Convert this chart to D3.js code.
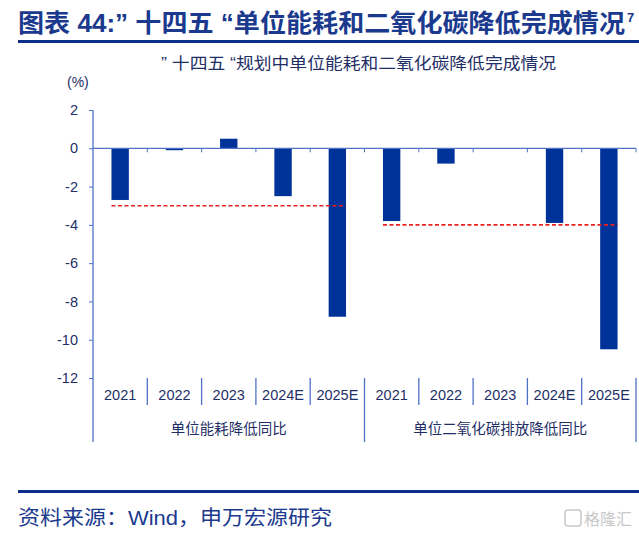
<!DOCTYPE html>
<html>
<head>
<meta charset="utf-8">
<script src="https://cdn.jsdelivr.net/npm/d3@7"></script>
<style>
  body { margin: 0; background: #fff; }
  text { font-family: "Liberation Sans", "Noto Sans CJK SC", sans-serif; }
</style>
</head>
<body>
<div id="chart"></div>
<script>
const years = ["2021", "2022", "2023", "2024E", "2025E"];
const groups = ["单位能耗降低同比", "单位二氧化碳排放降低同比"];
const energyValues = [-2.7, -0.1, 0.5, -2.5, -8.8];
const carbonValues = [-3.8, -0.8, null, -3.9, -10.5]; // no bar for 2023
const targets = [-3.0, -4.0];
const yTicks = [2, 0, -2, -4, -6, -8, -10, -12];

const width = 639, height = 537;
const navy = "#1b3a8e";
const axisBlue = "#4f72c4";
const textDark = "#1f2f66";

const svg = d3.select("#chart")
  .append("svg")
  .attr("width", width)
  .attr("height", height);

// header
svg.append("text")
  .attr("x", 18).attr("y", 32)
  .attr("textLength", 607).attr("lengthAdjust", "spacingAndGlyphs")
  .style("font-size", "25px").style("font-weight", "bold")
  .attr("fill", navy)
  .text("图表 44:” 十四五 “单位能耗和二氧化碳降低完成情况");
svg.append("text")
  .attr("x", 627).attr("y", 22)
  .style("font-size", "13px").style("font-weight", "bold")
  .attr("fill", navy)
  .text("7");
svg.append("rect")
  .attr("x", 18).attr("y", 40).attr("width", width - 18).attr("height", 3)
  .attr("fill", "#0c2f8a");

svg.append("text")
  .attr("x", 161).attr("y", 69)
  .attr("textLength", 395).attr("lengthAdjust", "spacingAndGlyphs")
  .style("font-size", "16px")
  .attr("fill", textDark)
  .text("” 十四五 “规划中单位能耗和二氧化碳降低完成情况");

svg.append("text")
  .attr("x", 67).attr("y", 87)
  .style("font-size", "14px")
  .attr("fill", textDark)
  .text("(%)");

// flatten the two series into one row of categories
const rows = [];
years.forEach((yr, i) => rows.push({ key: "e" + i, year: yr, group: 0, value: energyValues[i] }));
years.forEach((yr, i) => rows.push({ key: "c" + i, year: yr, group: 1, value: carbonValues[i] }));

const x = d3.scaleBand()
  .domain(rows.map(d => d.key))
  .range([93, 636])
  .padding(0);

const y = d3.scaleLinear()
  .domain([-12, 2])
  .range([378, 110]);

const barW = x.bandwidth() * 0.32;

// y axis
const yAxis = svg.append("g")
  .attr("transform", "translate(93,0)")
  .call(d3.axisLeft(y).tickValues(yTicks).tickSize(4).tickPadding(11).tickFormat(d3.format("d")));
yAxis.select(".domain").remove();
yAxis.selectAll(".tick line").attr("stroke", axisBlue);
yAxis.selectAll(".tick text")
  .attr("fill", textDark)
  .style("font-size", "14.5px")
  .text(d => d < 0 ? "-" + Math.abs(d) : d);

// y axis line, running down through the category labels
svg.append("line")
  .attr("x1", 93).attr("x2", 93)
  .attr("y1", y(2)).attr("y2", 442)
  .attr("stroke", axisBlue).attr("stroke-width", 1.3);

// bars
svg.selectAll(".bar")
  .data(rows.filter(d => d.value !== null))
  .enter()
  .append("rect")
  .attr("class", "bar")
  .attr("x", d => x(d.key) + (x.bandwidth() - barW) / 2)
  .attr("y", d => y(Math.max(0, d.value)))
  .attr("width", barW)
  .attr("height", d => Math.abs(y(d.value) - y(0)))
  .attr("fill", "#003399");

// zero line with category ticks
svg.append("line")
  .attr("x1", 93).attr("x2", 636)
  .attr("y1", y(0)).attr("y2", y(0))
  .attr("stroke", axisBlue).attr("stroke-width", 1.3);
svg.selectAll(".ztick")
  .data(rows)
  .enter()
  .append("line")
  .attr("class", "ztick")
  .attr("x1", d => x(d.key) + x.bandwidth())
  .attr("x2", d => x(d.key) + x.bandwidth())
  .attr("y1", y(0)).attr("y2", y(0) + 4)
  .attr("stroke", axisBlue);

// target lines per group
targets.forEach((t, g) => {
  const grp = rows.filter(d => d.group === g);
  const first = grp[0], last = grp[grp.length - 1];
  svg.append("line")
    .attr("x1", x(first.key) + (x.bandwidth() - barW) / 2)
    .attr("x2", x(last.key) + (x.bandwidth() + barW) / 2)
    .attr("y1", y(t)).attr("y2", y(t))
    .attr("stroke", "#e8201f")
    .attr("stroke-width", 1.6)
    .attr("stroke-dasharray", "4,2.5");
});

// category labels (two levels)
const labelTop = y(-12);
svg.selectAll(".sep")
  .data(rows)
  .enter()
  .append("line")
  .attr("class", "sep")
  .attr("x1", d => x(d.key) + x.bandwidth())
  .attr("x2", d => x(d.key) + x.bandwidth())
  .attr("y1", labelTop)
  .attr("y2", (d, i) => (i + 1) % years.length === 0 ? 442 : 405)
  .attr("stroke", axisBlue).attr("stroke-width", 1.3);

svg.selectAll(".year")
  .data(rows)
  .enter()
  .append("text")
  .attr("class", "year")
  .attr("x", d => x(d.key) + x.bandwidth() / 2)
  .attr("y", 400)
  .attr("text-anchor", "middle")
  .style("font-size", "14.5px")
  .attr("fill", textDark)
  .text(d => d.year);

svg.selectAll(".group")
  .data(groups)
  .enter()
  .append("text")
  .attr("class", "group")
  .attr("x", (d, g) => {
    const grp = rows.filter(r => r.group === g);
    return (x(grp[0].key) + x(grp[grp.length - 1].key) + x.bandwidth()) / 2;
  })
  .attr("y", 434)
  .attr("text-anchor", "middle")
  .style("font-size", "14.5px")
  .attr("fill", textDark)
  .text(d => d);

// footer
svg.append("rect")
  .attr("x", 18).attr("y", 490).attr("width", width - 18).attr("height", 3)
  .attr("fill", "#0c2f8a");
svg.append("text")
  .attr("x", 18).attr("y", 525)
  .attr("textLength", 314).attr("lengthAdjust", "spacingAndGlyphs")
  .style("font-size", "20px")
  .attr("fill", navy)
  .text("资料来源：Wind，申万宏源研究");

// watermark
svg.append("rect")
  .attr("x", 565).attr("y", 510).attr("width", 16).attr("height", 16).attr("rx", 3)
  .attr("fill", "none").attr("stroke", "#c8c8c8").attr("stroke-width", 1.5);
svg.append("text")
  .attr("x", 584).attr("y", 525)
  .style("font-size", "16px")
  .attr("fill", "#c8c8c8")
  .text("格隆汇");
</script>
</body>
</html>
